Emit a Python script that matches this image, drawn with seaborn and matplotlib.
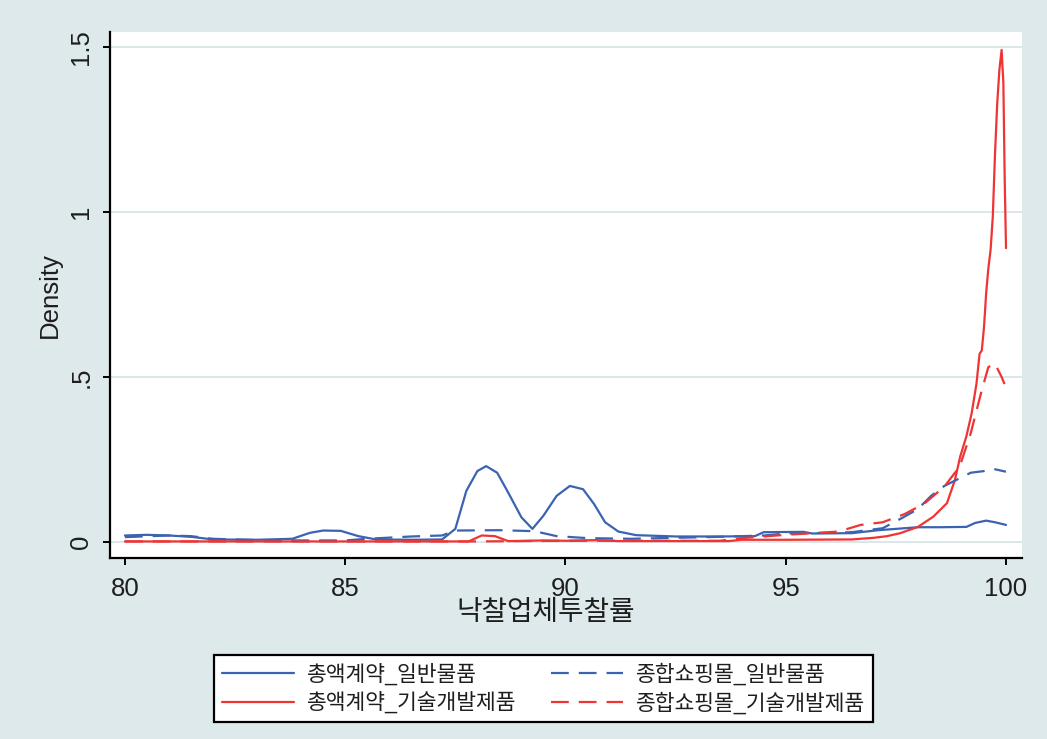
import matplotlib
matplotlib.use("Agg")
import matplotlib.pyplot as plt
from matplotlib.ticker import FixedLocator, FixedFormatter
import seaborn as sns

# Kernel density curves of winning bid rates (%), by contract type and product group
label_a = "총액계약_일반물품"
x_a = [80.0, 80.5, 81.0, 81.5, 82.0, 83.0, 83.8, 84.2, 84.5, 84.9, 85.3, 85.7,
       86.5, 87.2, 87.5, 87.75, 88.0, 88.2, 88.45, 88.7, 89.0, 89.25, 89.5,
       89.8, 90.1, 90.4, 90.65, 90.9, 91.2, 91.6, 92.5, 93.5, 94.3, 94.5,
       95.4, 95.6, 96.5, 97.1, 97.5, 98.0, 98.5, 99.1, 99.3, 99.55, 99.75, 100.0]
y_a = [0.02, 0.022, 0.02, 0.016, 0.008, 0.007, 0.01, 0.028, 0.035, 0.034, 0.018,
       0.008, 0.007, 0.008, 0.04, 0.155, 0.215, 0.23, 0.21, 0.15, 0.075, 0.04,
       0.08, 0.14, 0.17, 0.16, 0.115, 0.06, 0.032, 0.021, 0.017, 0.017, 0.018,
       0.03, 0.031, 0.026, 0.027, 0.036, 0.04, 0.045, 0.045, 0.046, 0.058,
       0.065, 0.06, 0.052]

label_b = "종합쇼핑몰_일반물품"
x_b = [80.0, 81.0, 81.5, 82.0, 83.0, 84.0, 85.0, 85.5, 86.5, 87.2, 87.5, 88.5,
       89.3, 89.8, 90.5, 91.5, 92.5, 93.5, 94.5, 95.0, 96.0, 96.5, 97.2, 97.6,
       98.0, 98.3, 98.6, 98.9, 99.2, 99.5, 99.7, 100.0]
y_b = [0.015, 0.02, 0.018, 0.01, 0.006, 0.005, 0.005, 0.01, 0.017, 0.02, 0.035,
       0.036, 0.033, 0.018, 0.012, 0.01, 0.013, 0.016, 0.02, 0.026, 0.028, 0.03,
       0.042, 0.07, 0.1, 0.14, 0.17, 0.19, 0.21, 0.215, 0.222, 0.213]

label_c = "총액계약_기술개발제품"
x_c = [80.0, 87.8, 88.1, 88.4, 88.7, 89.5, 90.0, 90.7, 91.2, 93.7, 94.0, 95.0,
       96.5, 97.0, 97.3, 97.6, 98.0, 98.35, 98.66, 98.84, 98.96, 99.1, 99.22,
       99.33, 99.4, 99.45, 99.5, 99.55, 99.6, 99.65, 99.7, 99.75, 99.8, 99.85,
       99.9, 99.94, 99.97, 100.0]
y_c = [0.002, 0.002, 0.02, 0.018, 0.003, 0.005, 0.004, 0.006, 0.003, 0.003,
       0.007, 0.007, 0.008, 0.013, 0.018, 0.027, 0.046, 0.077, 0.118, 0.188,
       0.259, 0.32, 0.39, 0.48, 0.57, 0.58, 0.65, 0.755, 0.83, 0.885, 0.985,
       1.175, 1.327, 1.43, 1.49, 1.39, 1.1, 0.89]

label_d = "종합쇼핑몰_기술개발제품"
x_d = [80.0, 88.0, 90.0, 93.5, 94.0, 95.0, 95.5, 96.2, 96.7, 97.2, 97.7, 98.15,
       98.6, 98.95, 99.2, 99.45, 99.6, 99.75, 99.9, 100.0]
y_d = [0.002, 0.002, 0.004, 0.004, 0.012, 0.022, 0.026, 0.032, 0.052, 0.06,
       0.085, 0.117, 0.168, 0.229, 0.33, 0.46, 0.53, 0.54, 0.5, 0.467]

x_ticks = [80, 85, 90, 95, 100]
y_ticks = [0, 0.5, 1, 1.5]
y_tick_labels = ["0", ".5", "1", "1.5"]
x_title = "낙찰업체투찰률"
y_title = "Density"

BLUE = "#3a63b2"
RED = "#f03434"
BG = "#dde9ea"
GRID = "#dbe7e9"
TEXT = "#1e1e1e"

sns.set_theme(style="white")
plt.rcParams["font.family"] = ["Liberation Sans", "Noto Sans CJK KR", "DejaVu Sans"]
plt.rcParams["axes.unicode_minus"] = False

fig = plt.figure(figsize=(10.47, 7.39), dpi=100, facecolor=BG)
ax = fig.add_axes([0.105, 0.245, 0.871, 0.712])
ax.set_facecolor("white")

dash = (0, (8, 4.5))
series = [
    (x_a, y_a, BLUE, "-", label_a),
    (x_c, y_c, RED, "-", label_c),
    (x_b, y_b, BLUE, dash, label_b),
    (x_d, y_d, RED, dash, label_d),
]
handles = []
for xs, ys, col, ls, lab in series:
    sns.lineplot(x=xs, y=ys, ax=ax, color=col, linestyle=ls, linewidth=1.6,
                 estimator=None, sort=False, label=lab)
    handles.append(ax.lines[-1])

ax.set_xlim(79.66, 100.36)
ax.set_ylim(-0.048, 1.545)

ax.yaxis.set_major_locator(FixedLocator(y_ticks))
ax.yaxis.set_major_formatter(FixedFormatter(y_tick_labels))
ax.xaxis.set_major_locator(FixedLocator(x_ticks))
ax.grid(axis="y", color=GRID, linewidth=1.4)
ax.grid(axis="x", visible=False)
ax.set_axisbelow(True)

for side in ("top", "right"):
    ax.spines[side].set_visible(False)
for side in ("left", "bottom"):
    ax.spines[side].set_color("black")
    ax.spines[side].set_linewidth(1.6)

ax.tick_params(axis="both", direction="out", length=5, width=1.4,
               colors="black", labelcolor=TEXT, labelsize=18.5)
ax.tick_params(axis="x", bottom=True, pad=9)
ax.tick_params(axis="y", left=True, pad=7)
for lbl in ax.get_yticklabels():
    lbl.set_rotation(90)
    lbl.set_va("center")

ax.set_ylabel(y_title, fontsize=18.5, color=TEXT, labelpad=5)
ax.set_xlabel(x_title, fontsize=20, color=TEXT)
ax.xaxis.set_label_coords(0.478, -0.104)
ax.xaxis.label.set_va("center")

ax.get_legend().remove()
leg = fig.legend(handles=handles, labels=[label_a, label_c, label_b, label_d],
                 ncol=2, loc="center", bbox_to_anchor=(0.519, 0.068),
                 fontsize=15.5, frameon=True, fancybox=False, framealpha=1,
                 edgecolor="black", handlelength=3.35, handletextpad=0.6,
                 columnspacing=1.6, labelspacing=0.3, borderpad=0.35,
                 borderaxespad=0)
for t in leg.get_texts():
    t.set_color(TEXT)
leg.get_frame().set_linewidth(1.6)
leg.get_frame().set_facecolor("white")

fig.savefig("out.png", dpi=100, facecolor=BG)
